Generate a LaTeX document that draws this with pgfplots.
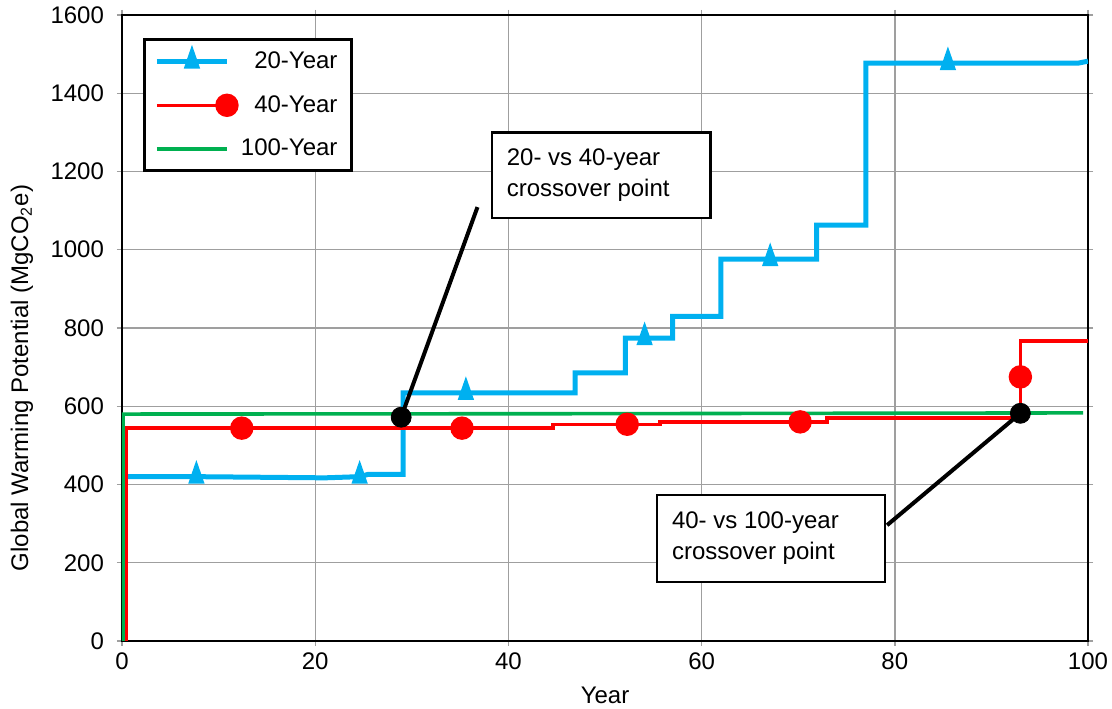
\documentclass[border=0pt]{standalone}
\usepackage{fontspec}
\setmainfont{Liberation Sans}
\usepackage{pgfplots}
\pgfplotsset{compat=1.18}

\definecolor{c20}{RGB}{0,176,240}
\definecolor{c40}{RGB}{255,0,0}
\definecolor{c100}{RGB}{0,176,80}
\newcommand\fs{\fontsize{12}{14}\selectfont}

\begin{document}
\begin{tikzpicture}
\begin{axis}[
  name=ax,
  scale only axis,
  width=483pt, height=313pt,
  xmin=0, xmax=100, ymin=0, ymax=1600,
  xtick={0,20,...,100}, ytick={0,200,...,1600},
  grid=major,
  major grid style={gray!75, line width=0.7pt},
  axis line style={black, line width=1pt},
  tick align=outside, major tick length=2.5pt,
  tick style={gray!75, line width=0.7pt},
  /pgf/number format/assume math mode=true,
  /pgf/number format/1000 sep={},
  tick label style={font=\fs},
  yticklabel shift=3pt,
  xlabel={Year}, ylabel={Global Warming Potential (MgCO\textsubscript{2}e)},
  label style={font=\fs},
  xlabel style={at={(axis description cs:0.5,0)}, anchor=center, yshift=-27pt},
  ylabel style={at={(axis description cs:-0.1035,0.42)}, anchor=center},
  legend style={at={(rel axis cs:0.0217,0.963)}, anchor=north west,
    draw=black, line width=1.5pt, font=\fs, inner xsep=5pt, inner ysep=4pt,
    row sep=8pt},
  legend cell align=right,
  legend image code/.code={
    \draw[#1] plot coordinates {(0pt,0pt) (17.5pt,0pt) (35pt,0pt)};},
]
% 20-year
\addplot[c20, line width=2.5pt, mark=triangle*, mark size=4.5pt,
  mark options={xscale=0.6, solid}, mark indices={2,4,8,13,18,23},
  line join=miter]
coordinates {
(0.6,420) (7.7,420) (21,417) (24.6,420) (25.5,426) (29.1,426)
(29.1,634) (35.6,634) (46.9,634) (46.9,685) (52.1,685) (52.1,774)
(54.1,774) (57,774) (57,830) (62,830) (62,976) (67.1,976) (71.9,976)
(71.9,1063) (77,1063) (77,1477) (85.5,1477) (99,1477) (100,1482)
};
\addlegendentry{20-Year}
% 40-year
\addplot[c40, line width=1.7pt, mark=*, mark size=5pt,
  mark indices={3,4,7,10,14}]
coordinates {
(0.4,0) (0.4,544) (12.4,544) (35.2,544) (44.6,544) (44.6,554) (52.3,554)
(55.7,554) (55.7,560) (70.2,560) (73,560) (73,570) (93,570) (93,675)
(93,767) (100,767)
};
\addlegendentry{40-Year}
% 100-year
\addplot[c100, line width=1.8pt, mark=none]
coordinates {(0.1,0) (0.1,580) (50,581) (99.5,583)};
\addlegendentry{100-Year}

% crossover annotations
\draw[black, line width=2pt] (axis cs:28.9,572) -- (axis cs:36.8,1109);
\draw[black, line width=2pt] (axis cs:93,582) -- (axis cs:79.2,296);
\addplot[only marks, mark=*, mark size=5pt, black, forget plot]
coordinates {(28.9,572) (93,582)};

\draw[black, line width=1.2pt, fill=white]
  (axis cs:38.3,1081) rectangle (axis cs:60.9,1300);
\node[anchor=west, align=left, font=\fs, inner sep=0pt,
  execute at begin node=\setlength{\baselineskip}{15.5pt}]
  at (axis cs:39.8,1190) {20- vs 40-year\\crossover point};
\draw[black, line width=1.2pt, fill=white]
  (axis cs:55.4,151) rectangle (axis cs:79.0,373);
\node[anchor=west, align=left, font=\fs, inner sep=0pt,
  execute at begin node=\setlength{\baselineskip}{15.5pt}]
  at (axis cs:56.9,262) {40- vs 100-year\\crossover point};
\end{axis}
\pgfresetboundingbox
\useasboundingbox ([xshift=-61pt,yshift=-34pt]ax.south west)
  rectangle ([xshift=12pt,yshift=7.5pt]ax.north east);
\end{tikzpicture}
\end{document}
